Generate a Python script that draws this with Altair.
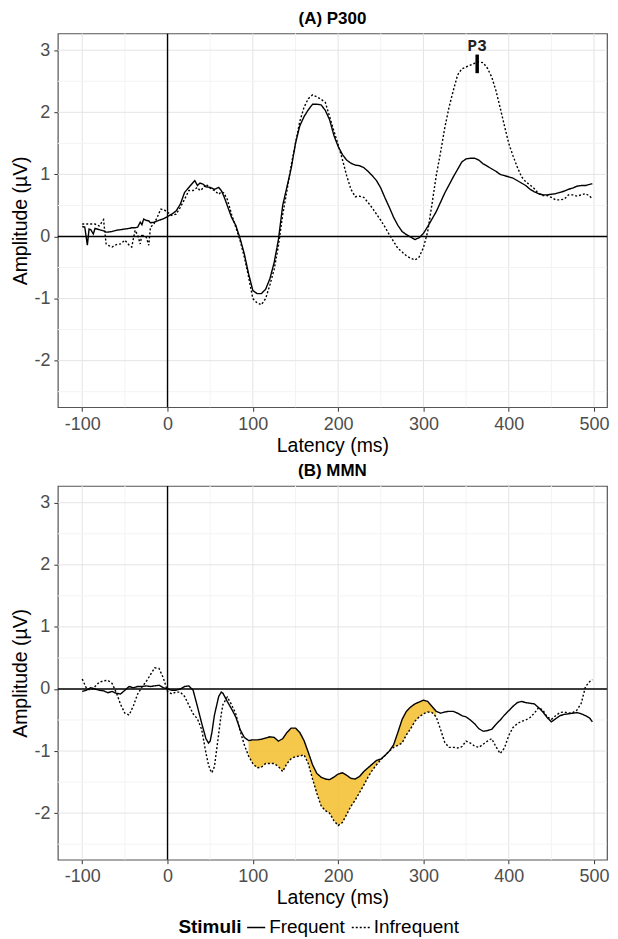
import altair as alt
import pandas as pd

# ---------------- data ----------------
stimuli = ["Frequent", "Infrequent"]
x_major = [-100, 0, 100, 200, 300, 400, 500]
x_minor = [-50, 50, 150, 250, 350, 450]
y_major = [-2, -1, 0, 1, 2, 3]
y_minor = [-2.5, -1.5, -0.5, 0.5, 1.5, 2.5]

latency_a = [-100, -97, -94, -92, -90, -87, -85, -80, -75, -72, -70, -65, -60, -55, -50,
             -45, -42, -38, -35, -32, -30, -28, -25, -22, -20, -16, -12, -8, -4, 0,
             5, 10, 15, 20, 25, 30, 32, 35, 38, 42, 45, 50, 55, 60, 63, 66, 70, 75, 80,
             85, 90, 95, 100, 105, 110, 115, 120, 125, 130, 135, 140, 145, 150, 155, 160,
             165, 170, 175, 180, 185, 190, 195, 200, 205, 210, 215, 220, 225, 230, 235,
             240, 245, 250, 255, 260, 265, 270, 275, 280, 285, 290, 295, 300, 305, 310,
             315, 320, 325, 330, 335, 340, 345, 350, 355, 360, 365, 370, 375, 380, 385,
             390, 395, 400, 405, 410, 415, 420, 425, 430, 435, 440, 445, 450, 455, 460,
             465, 470, 475, 480, 485, 490, 495, 498]
frequent_a = [0.16, 0.15, -0.14, 0.12, 0.11, 0.04, 0.13, 0.11, 0.09, 0.07, 0.07, 0.08, 0.10, 0.11, 0.12,
              0.13, 0.14, 0.14, 0.15, 0.23, 0.19, 0.28, 0.26, 0.25, 0.22, 0.23, 0.25, 0.27, 0.29, 0.32,
              0.36, 0.41, 0.52, 0.71, 0.79, 0.87, 0.90, 0.82, 0.86, 0.84, 0.80, 0.79, 0.76, 0.79, 0.74, 0.65, 0.50, 0.31, 0.18,
              -0.03, -0.28, -0.60, -0.87, -0.92, -0.92, -0.85, -0.68, -0.42, -0.05, 0.50, 0.80, 1.10, 1.50, 1.78, 1.93,
              2.04, 2.13, 2.13, 2.12, 2.03, 1.88, 1.63, 1.45, 1.32, 1.23, 1.18, 1.15, 1.14, 1.11, 1.05,
              0.98, 0.90, 0.78, 0.62, 0.47, 0.31, 0.18, 0.08, 0.03, -0.01, -0.05, -0.02, 0.05, 0.16, 0.28,
              0.40, 0.55, 0.70, 0.83, 0.96, 1.08, 1.20, 1.25, 1.26, 1.26, 1.23, 1.17, 1.13, 1.09, 1.05,
              1.00, 0.98, 0.96, 0.94, 0.90, 0.86, 0.82, 0.76, 0.72, 0.69, 0.67, 0.67, 0.68, 0.69, 0.71,
              0.73, 0.76, 0.78, 0.81, 0.82, 0.82, 0.84, 0.85]
infrequent_a = [0.20, 0.20, 0.20, 0.20, 0.20, 0.20, 0.20, 0.17, 0.27, -0.12, -0.14, -0.17, -0.13, -0.12, -0.06,
                -0.14, -0.17, 0.10, 0.02, -0.12, 0.04, 0.00, -0.01, -0.14, 0.15, 0.20, 0.31, 0.44, 0.43, 0.39,
                0.34, 0.36, 0.47, 0.60, 0.74, 0.74, 0.76, 0.79, 0.74, 0.78, 0.84, 0.78, 0.74, 0.68, 0.72, 0.70, 0.60, 0.36, 0.15,
                -0.06, -0.33, -0.65, -1.00, -1.07, -1.10, -1.00, -0.78, -0.53, -0.15, 0.35, 0.74, 1.15, 1.50, 1.85, 2.08,
                2.22, 2.28, 2.25, 2.21, 2.16, 1.93, 1.70, 1.48, 1.24, 0.98, 0.76, 0.64, 0.65, 0.63, 0.55,
                0.46, 0.36, 0.26, 0.15, 0.03, -0.08, -0.19, -0.25, -0.31, -0.35, -0.38, -0.33, -0.18, 0.08, 0.52,
                0.98, 1.35, 1.75, 2.08, 2.35, 2.60, 2.70, 2.73, 2.76, 2.79, 2.81, 2.80, 2.71, 2.57, 2.35,
                2.07, 1.78, 1.50, 1.30, 1.12, 0.96, 0.88, 0.83, 0.77, 0.69, 0.66, 0.66, 0.63, 0.59, 0.59,
                0.60, 0.67, 0.67, 0.65, 0.67, 0.69, 0.65, 0.60]

latency_b = [-100, -95, -90, -85, -80, -75, -70, -65, -60, -55, -50, -45, -40, -35, -30, -25, -20,
             -15, -10, -5, 0, 5, 10, 15, 20, 25, 30, 35, 40, 45, 48, 50, 52, 55, 60, 63, 65, 70,
             75, 80, 85, 90, 95, 100, 105, 110, 115, 120, 125, 130, 135, 140, 145, 150, 155, 160,
             165, 170, 175, 180, 185, 190, 195, 200, 205, 210, 215, 220, 225, 230, 235, 240, 245,
             250, 255, 260, 265, 270, 275, 280, 285, 290, 295, 300, 305, 310, 315, 320, 325, 330,
             335, 340, 345, 350, 355, 360, 365, 370, 375, 380, 385, 390, 395, 400, 405, 410, 415,
             420, 425, 430, 435, 440, 445, 450, 455, 460, 465, 470, 475, 480, 485, 490, 495, 498]
frequent_b = [-0.04, -0.02, 0.02, 0.00, -0.02, -0.03, -0.06, -0.04, -0.07, -0.08, -0.02, 0.04, 0.02, 0.04, 0.04, 0.05, 0.04,
              0.05, 0.06, 0.02, 0.00, -0.02, -0.02, 0.00, 0.04, 0.05, -0.02, -0.28, -0.55, -0.80, -0.87, -0.84, -0.70, -0.42, -0.12, -0.05, -0.07, -0.20,
              -0.32, -0.45, -0.65, -0.78, -0.83, -0.82, -0.82, -0.81, -0.79, -0.77, -0.78, -0.84, -0.80, -0.70, -0.63, -0.63, -0.70, -0.83,
              -1.02, -1.22, -1.36, -1.42, -1.45, -1.46, -1.42, -1.37, -1.35, -1.39, -1.44, -1.45, -1.41, -1.33, -1.27, -1.21, -1.15,
              -1.13, -1.07, -1.00, -0.90, -0.70, -0.49, -0.36, -0.29, -0.24, -0.21, -0.18, -0.20, -0.28, -0.36, -0.39, -0.37, -0.36,
              -0.36, -0.39, -0.43, -0.45, -0.50, -0.56, -0.64, -0.68, -0.67, -0.65, -0.57, -0.50, -0.42, -0.35, -0.28, -0.22, -0.20,
              -0.22, -0.23, -0.24, -0.30, -0.37, -0.46, -0.53, -0.48, -0.43, -0.41, -0.40, -0.39, -0.38, -0.40, -0.43, -0.47, -0.53]
infrequent_b = [0.16, 0.01, -0.02, 0.04, 0.11, 0.13, 0.14, 0.09, -0.06, -0.25, -0.39, -0.42, -0.27, -0.08, 0.03, 0.12, 0.23,
                0.34, 0.33, 0.18, -0.04, -0.08, -0.05, -0.05, -0.12, -0.26, -0.40, -0.48, -0.65, -1.03, -1.22, -1.30, -1.35, -1.25, -0.72, -0.40, -0.25, -0.13,
                -0.25, -0.40, -0.67, -0.90, -1.08, -1.20, -1.27, -1.26, -1.20, -1.20, -1.20, -1.25, -1.33, -1.20, -1.12, -1.09, -1.08, -1.06,
                -1.20, -1.45, -1.68, -1.88, -1.96, -2.00, -2.12, -2.20, -2.15, -2.02, -1.89, -1.79, -1.67, -1.55, -1.42, -1.31, -1.22,
                -1.14, -1.07, -1.00, -0.94, -0.91, -0.87, -0.74, -0.64, -0.52, -0.45, -0.40, -0.37, -0.38, -0.45, -0.65, -0.86, -0.94,
                -0.94, -0.95, -0.93, -0.84, -0.87, -0.92, -0.94, -0.89, -0.84, -0.80, -0.93, -1.04, -0.95, -0.75, -0.62, -0.56, -0.52,
                -0.50, -0.46, -0.39, -0.30, -0.34, -0.45, -0.49, -0.43, -0.38, -0.37, -0.39, -0.38, -0.34, -0.23, 0.04, 0.12, 0.15]

mmn_window = [93, 317]          # shaded difference window (ms)
p3_latency = [363]
p3_mark_top = [2.93]
p3_mark_bottom = [2.63]
p3_label_y = [3.07]
p3_label = ["P3"]

# ---------------- tables ----------------
def long_table(lat, f, i):
    return pd.DataFrame({
        "latency": list(lat) + list(lat),
        "amplitude": list(f) + list(i),
        "stimulus": [stimuli[0]] * len(lat) + [stimuli[1]] * len(lat),
    })

df_a = long_table(latency_a, frequent_a, infrequent_a)
df_b = long_table(latency_b, frequent_b, infrequent_b)
df_b_wide = pd.DataFrame({"latency": latency_b, "freq": frequent_b, "infreq": infrequent_b})
p3_df = pd.DataFrame({"latency": p3_latency, "top": p3_mark_top, "bottom": p3_mark_bottom,
                      "label_y": p3_label_y, "label": p3_label})
zero_df = pd.DataFrame({"zero": [0]})
gx_major = pd.DataFrame({"g": x_major})
gx_minor = pd.DataFrame({"g": x_minor})
gy_major = pd.DataFrame({"g": y_major})
gy_minor = pd.DataFrame({"g": y_minor})

PLOT_W = 551
PLOT_H = 375
X_DOMAIN = [-128.6, 515.2]
Y_DOMAIN = [-2.75, 3.27]
FONT = "Liberation Sans"

X_AXIS = alt.Axis(values=x_major, labelExpr="toString(datum.value)", grid=False,
                  labelOverlap=False, labelFlush=False)
Y_AXIS = alt.Axis(values=y_major, labelExpr="toString(datum.value)", grid=False,
                  labelOverlap=False, labelFlush=False)


def x_enc(field="latency"):
    return alt.X(f"{field}:Q", scale=alt.Scale(domain=X_DOMAIN, nice=False, zero=False),
                 axis=X_AXIS, title="Latency (ms)")


def y_enc(field="amplitude"):
    return alt.Y(f"{field}:Q", scale=alt.Scale(domain=Y_DOMAIN, nice=False, zero=False),
                 axis=Y_AXIS, title="Amplitude (µV)")


def background_layers():
    lyr = []
    for df, col in [(gx_minor, "#F3F3F3"), (gx_major, "#E4E4E4")]:
        lyr.append(alt.Chart(df).mark_rule(color=col, strokeWidth=1).encode(x=x_enc("g")))
    for df, col in [(gy_minor, "#F3F3F3"), (gy_major, "#E4E4E4")]:
        lyr.append(alt.Chart(df).mark_rule(color=col, strokeWidth=1).encode(y=y_enc("g")))
    lyr.append(alt.Chart(zero_df).mark_rule(color="black", strokeWidth=1.4).encode(y=y_enc("zero")))
    lyr.append(alt.Chart(zero_df).mark_rule(color="black", strokeWidth=1.4).encode(x=x_enc("zero")))
    return lyr


def lines(df):
    return alt.Chart(df).mark_line(color="black", strokeWidth=1.4).encode(
        x=x_enc(), y=y_enc(),
        strokeDash=alt.StrokeDash("stimulus:N",
                                  scale=alt.Scale(domain=stimuli, range=[[1, 0], [2, 2]]),
                                  legend=alt.Legend(title="Stimuli", orient="none", direction="horizontal",
                                                    titleOrient="left", legendX=121, legendY=887)),
    )


title_a = alt.TitleParams("(A) P300", fontSize=17, fontWeight="bold", font=FONT, anchor="middle", offset=5, color="black")
title_b = alt.TitleParams("(B) MMN", fontSize=17, fontWeight="bold", font=FONT, anchor="middle", offset=5, color="black")

p3_rule = alt.Chart(p3_df).mark_rule(color="black", strokeWidth=3.5).encode(
    x=x_enc(), y=y_enc("bottom"), y2="top")
p3_text = alt.Chart(p3_df).mark_text(font="Liberation Mono", fontWeight="bold", fontSize=16,
                                     baseline="middle", color="#222").encode(
    x=x_enc(), y=y_enc("label_y"), text="label:N")

panel_a = alt.layer(*background_layers(), lines(df_a), p3_rule, p3_text).properties(
    width=PLOT_W, height=PLOT_H, title=title_a)

area_b = alt.Chart(df_b_wide).transform_filter(
    f"datum.latency >= {mmn_window[0]} && datum.latency <= {mmn_window[1]}"
).mark_area(color="#F3BD2B", opacity=0.85).encode(x=x_enc(), y=y_enc("freq"), y2="infreq")

panel_b = alt.layer(*background_layers(), area_b, lines(df_b)).properties(
    width=PLOT_W, height=PLOT_H, title=title_b)

chart = alt.vconcat(panel_a, panel_b, spacing=5).properties(
    padding={"left": 2, "top": -1, "right": 0, "bottom": 0}
).configure_view(
    stroke="#555555", strokeWidth=1.2
).configure_axis(
    domain=False, tickColor="#333333", tickSize=4, labelPadding=4,
    labelFont=FONT, labelFontSize=18, labelColor="#4D4D4D",
    titleFont=FONT, titleFontSize=19.5, titleFontWeight="normal", titleColor="black",
).configure_axisX(titlePadding=3).configure_axisY(titlePadding=3, labelPadding=4).configure_legend(
    labelFont=FONT, labelFontSize=19, titleFont=FONT, titleFontSize=19, titleFontWeight="bold",
    titleColor="black", labelColor="black", symbolStrokeColor="black", symbolStrokeWidth=1.4,
    symbolSize=330, labelOffset=3, columnPadding=3, titlePadding=4, symbolType="stroke",
)

chart.save("out.html", embed_options={"renderer": "svg", "actions": False})
